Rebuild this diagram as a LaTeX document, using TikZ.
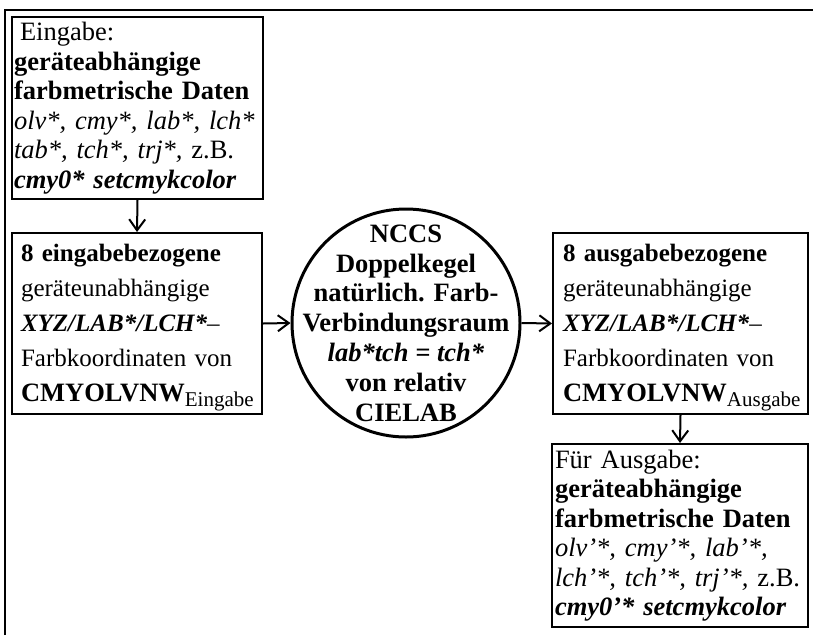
\documentclass[tikz,border=0pt]{standalone}
\usepackage{fontspec}
\setmainfont{Liberation Serif}[
  BoldFont={Liberation Serif Bold},
  ItalicFont={Liberation Serif Italic},
  BoldItalicFont={Liberation Serif Bold Italic}]
\usetikzlibrary{arrows.meta}
\newcommand{\lowsub}[1]{\smash{\raisebox{-5pt}{\fontsize{21}{21}\selectfont #1}}}
\newcommand{\bigcmy}{\fontsize{26.5}{35}\selectfont\textbf{CMYOLVNW}}
\tikzset{
  boxA/.style={draw, line width=2pt, rectangle, inner ysep=0pt, align=left,
    font=\fontsize{26.5}{29.5}\selectfont},
  boxB/.style={draw, line width=2pt, rectangle, inner ysep=0pt, align=left,
    font=\fontsize{25}{35}\selectfont},
  hub/.style={draw, line width=3pt, circle, inner sep=0pt, minimum size=228pt},
  hubtext/.style={inner sep=0pt, align=center,
    font=\fontsize{26.5}{29.8}\selectfont\bfseries},
  conn/.style={line width=2pt, -{Straight Barb[length=11pt,width=16pt,line width=2pt]}},
  frame/.style={line width=2pt}
}
\begin{document}
\begin{tikzpicture}[x=1pt,y=-1pt]
\useasboundingbox (0,0) rectangle (813,635);
\coordinate (fa) at (5,635);
\coordinate (fb) at (5,10);
\coordinate (fc) at (813,10);
\draw[frame] (fa) -- (fb) -- (fc);

\node[boxA, inner xsep=2pt, text width=247pt, minimum width=251pt, minimum height=182pt] (in) at (137.5,108)
{\hspace*{6pt}Eingabe:\\
\textbf{geräteabhängige}\\
\textbf{farbmetrische Daten}\\
\textit{olv*, cmy*, lab*, lch*}\\
\textit{tab*, tch*, trj*,} z.B.\\
\textbf{\textit{cmy0* setcmykcolor}}};

\node[boxB, inner xsep=9pt, text width=232pt, minimum width=250pt, minimum height=181pt] (ein) at (137,323.5)
{\textbf{8 eingabebezogene}\\
geräteunabhängige\\
\textbf{\textit{XYZ/LAB*/LCH*}}–\\
Farbkoordinaten von\\
\bigcmy\lowsub{Eingabe}};

\node[hub] (nccs) at (406,323) {};
\node[hubtext] (nccst) at (nccs.center)
{NCCS\\
Doppelkegel\\
natürlich. Farb-\\
Verbindungsraum\\
\textit{lab*tch = tch*}\\
von relativ\\
CIELAB};

\node[boxB, inner xsep=10pt, text width=235pt, minimum width=255pt, minimum height=181pt] (aus) at (680.5,323.5)
{\textbf{8 ausgabebezogene}\\
geräteunabhängige\\
\textbf{\textit{XYZ/LAB*/LCH*}}–\\
Farbkoordinaten von\\
\bigcmy\lowsub{Ausgabe}};

\node[boxA, inner xsep=3pt, text width=250pt, minimum width=256pt, minimum height=183pt] (out) at (680,535.5)
{Für Ausgabe:\\
\textbf{geräteabhängige}\\
\textbf{farbmetrische Daten}\\
\textit{olv'*, cmy'*, lab'*,}\\
\textit{lch'*, tch'*, trj'*,} z.B.\\
\textbf{\textit{cmy0'* setcmykcolor}}};

\draw[conn] (in.south) -- (ein.north);
\draw[conn] (ein.east) -- (nccs.west);
\draw[conn] (nccs.east) -- (aus.west);
\draw[conn] (aus.south) -- (out.north);
\end{tikzpicture}
\end{document}
